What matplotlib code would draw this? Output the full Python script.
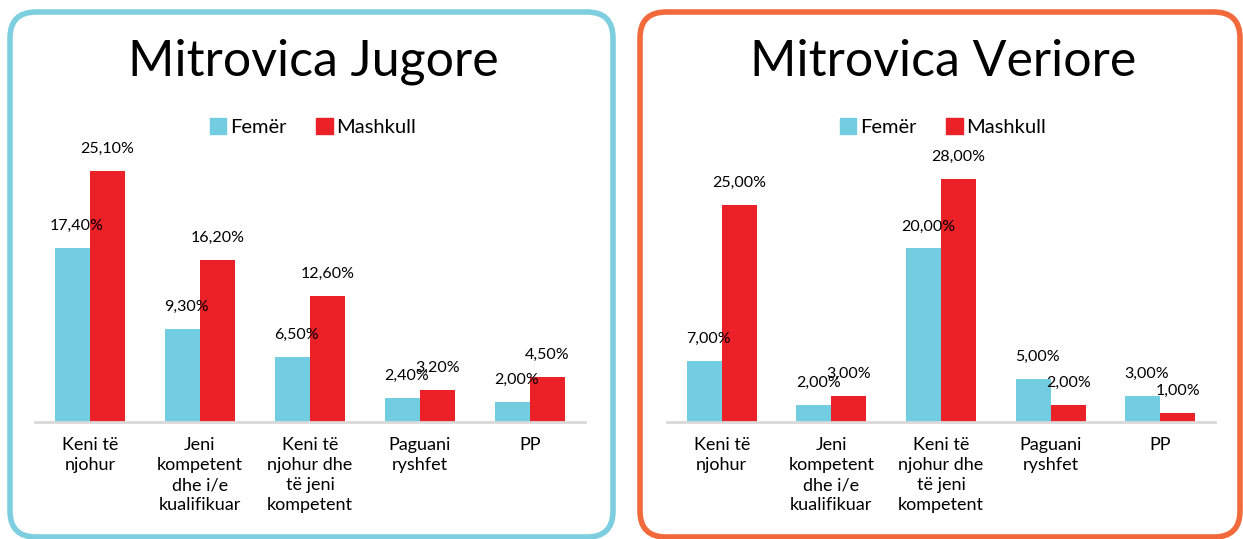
import matplotlib
matplotlib.use("Agg")
import matplotlib.pyplot as plt
from matplotlib.patches import FancyBboxPatch, Patch

plt.rcParams['font.family'] = ['Lato', 'DejaVu Sans']

categories = ["Keni të\nnjohur", "Jeni\nkompetent\ndhe i/e\nkualifikuar",
              "Keni të\nnjohur dhe\ntë jeni\nkompetent", "Paguani\nryshfet", "PP"]
series = ["Femër", "Mashkull"]

jugore_femer = [17.4, 9.3, 6.5, 2.4, 2.0]
jugore_mashkull = [25.1, 16.2, 12.6, 3.2, 4.5]
veriore_femer = [7.0, 2.0, 20.0, 5.0, 3.0]
veriore_mashkull = [25.0, 3.0, 28.0, 2.0, 1.0]

C_F = "#72CDE0"
C_M = "#EC2027"
W, H = 1243, 539

fig = plt.figure(figsize=(W / 100, H / 100), dpi=100)

# background panel frames, drawn in pixel coords
bg = fig.add_axes([0, 0, 1, 1], zorder=0)
bg.set_xlim(0, W)
bg.set_ylim(H, 0)
bg.axis('off')
bg.add_patch(FancyBboxPatch((10, 12), 603, 525, boxstyle="round,pad=0,rounding_size=26",
                            fc="white", ec="#7DCFE0", lw=4))
bg.add_patch(FancyBboxPatch((640, 12), 600, 525, boxstyle="round,pad=0,rounding_size=26",
                            fc="white", ec="#F26A3B", lw=4))


def panel(x0, x1, title, title_x, fem, mas, px_per_pct):
    base = 422
    top = 130
    ax = fig.add_axes([x0 / W, (H - base) / H, (x1 - x0) / W, (base - top) / H], zorder=2)
    ax.patch.set_alpha(0)
    w = 0.32
    xs = range(len(categories))
    ax.bar([x - w / 2 for x in xs], fem, w, color=C_F, label=series[0])
    ax.bar([x + w / 2 for x in xs], mas, w, color=C_M, label=series[1])
    ax.set_xlim(-0.5, 4.5)
    ax.set_ylim(0, (base - top) / px_per_pct)
    off = 22 / px_per_pct
    for x, f, m in zip(xs, fem, mas):
        ax.text(x - w / 2 + 0.04, f + off, f"{f:.2f}%".replace(".", ","),
                ha='center', va='center', fontsize=11.5)
        ax.text(x + w / 2, m + off, f"{m:.2f}%".replace(".", ","),
                ha='center', va='center', fontsize=11.5)
    for s in ['top', 'right', 'left']:
        ax.spines[s].set_visible(False)
    ax.spines['bottom'].set_color("#D9D9D9")
    ax.spines['bottom'].set_linewidth(2)
    ax.set_yticks([])
    ax.set_xticks(list(xs))
    ax.set_xticklabels(categories, fontsize=13, linespacing=1.3)
    ax.tick_params(axis='x', length=0, pad=11)
    fig.legend(handles=[Patch(color=C_F, label=series[0]), Patch(color=C_M, label=series[1])],
               loc='center', bbox_to_anchor=(title_x / W, (H - 127) / H), ncol=2,
               frameon=False, fontsize=14.5,
               handlelength=0.8, handleheight=0.8, handletextpad=0.2, columnspacing=1.5)
    fig.text(title_x / W, (H - 62) / H, title, ha='center', va='center', fontsize=36)


panel(35, 585, "Mitrovica Jugore", 313, jugore_femer, jugore_mashkull, 10.0)
panel(667, 1215, "Mitrovica Veriore", 943, veriore_femer, veriore_mashkull, 8.68)

fig.savefig("out.png", dpi=100)
